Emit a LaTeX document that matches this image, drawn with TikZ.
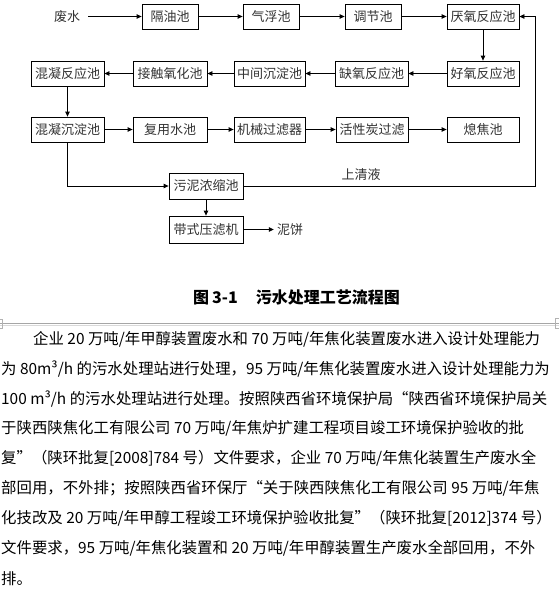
\documentclass[tikz,border=0pt]{standalone}
\usepackage{fontspec}
\setmainfont{Noto Sans CJK SC}
\newfontfamily\cjk{Noto Sans CJK SC}
\usetikzlibrary{arrows.meta}
\XeTeXlinebreaklocale "zh"
\XeTeXlinebreakskip=0pt plus 1pt
\newcommand{\gp}{\hspace{3.5pt}}
\begin{document}
\begin{tikzpicture}[x=1pt,y=-1pt,
  box/.style={draw, line width=0.8pt, minimum height=25pt, inner sep=0pt, text=black!80, font=\cjk\fontsize{13}{13}\selectfont},
  lbl/.style={inner sep=3pt, text=black!80, font=\cjk\fontsize{13}{13}\selectfont},
  arr/.style={-{Triangle[length=5pt,width=4.5pt]}, line width=0.8pt},
  body/.style={anchor=west, inner sep=0pt, font=\fontsize{15.4}{15.4}\selectfont}]
\useasboundingbox (0,0) rectangle (559,603);
\fill[white] (0,0) rectangle (559,603);
% row 1
\node[lbl] (fs) at (67,16.5) {废水};
\node[box,minimum width=56pt] (gy) at (170,16.5) {隔油池};
\node[box,minimum width=56pt] (qf) at (271,16.5) {气浮池};
\node[box,minimum width=56pt] (tj) at (373,16.5) {调节池};
\node[box,minimum width=72pt] (yy) at (483,16.5) {厌氧反应池};
% row 2
\node[box,minimum width=72pt] (hy) at (483,73.5) {好氧反应池};
\node[box,minimum width=73pt] (qy) at (371.5,73.5) {缺氧反应池};
\node[box,minimum width=71pt] (zj) at (269.5,73.5) {中间沉淀池};
\node[box,minimum width=74pt] (jc) at (170,73.5) {接触氧化池};
\node[box,minimum width=73pt] (hn) at (67.5,73.5) {混凝反应池};
% row 3
\node[box,minimum width=73pt] (hc) at (67.5,129.5) {混凝沉淀池};
\node[box,minimum width=74pt] (fy) at (170,129.5) {复用水池};
\node[box,minimum width=71pt] (jx) at (269.5,129.5) {机械过滤器};
\node[box,minimum width=72pt] (hx) at (372,129.5) {活性炭过滤};
\node[box,minimum width=72pt] (xj) at (483,129.5) {熄焦池};
% sludge
\node[box,minimum width=74pt,minimum height=26pt] (wn) at (206,186) {污泥浓缩池};
\node[box,minimum width=74pt,minimum height=27pt] (dz) at (206,229.5) {带式压滤机};
\node[lbl] (nb) at (290,229.5) {泥饼};
\node[lbl] (sq) at (361,175) {上清液};
\coordinate (c1) at (535,186);
% connectors
\draw[arr] ([xshift=5pt]fs.east) -- (gy);
\draw[arr] (gy) -- (qf);
\draw[arr] (qf) -- (tj);
\draw[arr] (tj) -- (yy);
\draw[arr] (yy) -- (hy);
\draw[arr] (hy) -- (qy);
\draw[arr] (qy) -- (zj);
\draw[arr] (zj) -- (jc);
\draw[arr] (jc) -- (hn);
\draw[arr] (hn) -- (hc);
\draw[arr] (hc) -- (fy);
\draw[arr] (fy) -- (jx);
\draw[arr] (jx) -- (hx);
\draw[arr] (hx) -- (xj);
\draw[arr] (hc.south) |- (wn.west);
\draw[arr] (wn.east) -- (c1) |- (yy.east);
\draw[arr] (wn) -- (dz);
\draw[arr] (dz) -- (nb.west);
% caption
\node[anchor=west, inner sep=0pt, font=\fontsize{16}{16}\selectfont\bfseries] (cap) at (193,297) {图\hspace{3pt}3-1\hspace{18pt}污水处理工艺流程图};
% page separator
\draw[gray!70, line width=1pt] (0,323.5) -- (559,323.5);
\draw[gray!30, line width=0.8pt] (0,325) -- (559,325);
\draw[gray!60, line width=0.6pt] (-2,319.5) rectangle (2.5,328.5);
\draw[gray!60, line width=0.6pt] (555.5,318.5) rectangle (562,328.5);
% body text
\node[body] (l0) at (33,339) {\makebox[516pt][s]{企业\gp{}20\gp{}万吨/年甲醇装置废水和\gp{}70\gp{}万吨/年焦化装置废水进入设计处理能力}};
\node[body] (l1) at (1,368.9) {\makebox[548pt][s]{为\gp{}80m³/h\gp{}的污水处理站进行处理，95\gp{}万吨/年焦化装置废水进入设计处理能力为}};
\node[body] (l2) at (1,398.8) {\makebox[548pt][s]{100\gp{}m³/h\gp{}的污水处理站进行处理。按照陕西省环境保护局“陕西省环境保护局关}};
\node[body] (l3) at (1,428.7) {\makebox[548pt][s]{于陕西陕焦化工有限公司\gp{}70\gp{}万吨/年焦炉扩建工程项目竣工环境保护验收的批}};
\node[body] (l4) at (1,458.6) {\makebox[548pt][s]{复”（陕环批复[2008]784\gp{}号）文件要求，企业\gp{}70\gp{}万吨/年焦化装置生产废水全}};
\node[body] (l5) at (1,488.5) {\makebox[548pt][s]{部回用，不外排；按照陕西省环保厅“关于陕西陕焦化工有限公司\gp{}95\gp{}万吨/年焦}};
\node[body] (l6) at (1,518.4) {\makebox[552pt][s]{化技改及\gp{}20\gp{}万吨/年甲醇工程竣工环境保护验收批复”（陕环批复[2012]374\gp{}号）}};
\node[body] (l7) at (1,548.3) {\makebox[548pt][s]{文件要求，95\gp{}万吨/年焦化装置和\gp{}20\gp{}万吨/年甲醇装置生产废水全部回用，不外}};
\node[body] (l8) at (1,578.2) {排。};
\end{tikzpicture}
\end{document}
